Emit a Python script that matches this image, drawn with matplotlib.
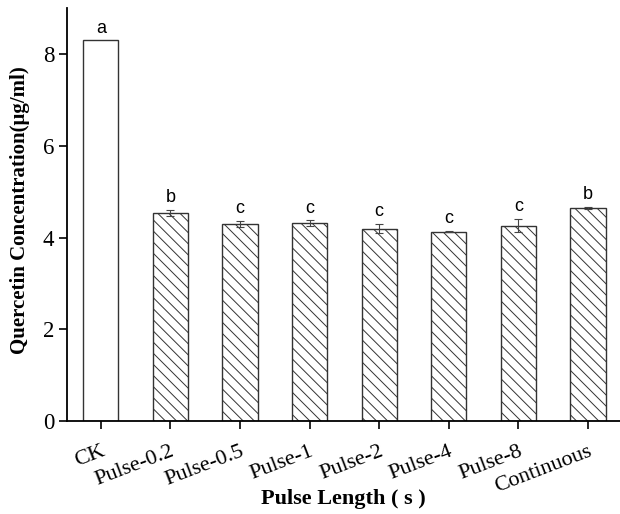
import numpy as np
import matplotlib
matplotlib.use("Agg")
import matplotlib.pyplot as plt

# values
groups = ["CK", "Pulse-0.2", "Pulse-0.5", "Pulse-1", "Pulse-2", "Pulse-4", "Pulse-8", "Continuous"]
quercetin = [8.30, 4.54, 4.30, 4.31, 4.19, 4.13, 4.26, 4.65]
errors = [0.0, 0.06, 0.065, 0.065, 0.10, 0.01, 0.15, 0.02]
letters = ["a", "b", "c", "c", "c", "c", "c", "b"]

plt.rcParams["hatch.color"] = "#555555"
plt.rcParams["hatch.linewidth"] = 0.7

fig = plt.figure(figsize=(6.2, 5.14), dpi=100)
ax = fig.add_axes([0.1075, 0.181, 0.8925, 0.803])

x = np.arange(len(groups))
for i in x:
    ax.bar(i, quercetin[i], width=0.505, color="white", edgecolor="#333333",
           linewidth=1.0, hatch=None if i == 0 else "\\\\\\")
    if errors[i] > 0:
        ax.errorbar(i, quercetin[i], yerr=errors[i], fmt="none", ecolor="#444444",
                    elinewidth=0.8, capsize=3, capthick=0.8)
    ax.text(i, quercetin[i] + errors[i] + 0.17, letters[i], ha="center", va="baseline",
            fontsize=13, family="Liberation Sans")

ax.set_xlim(-0.49, 7.46)
ax.set_ylim(0, 9)
ax.set_yticks([0, 2, 4, 6, 8])
ax.set_xticks(x)
ax.set_xticklabels(groups, rotation=21, ha="right", rotation_mode="anchor",
                   family="Liberation Serif", fontsize=16)
for lab in ax.get_yticklabels():
    lab.set_family("Liberation Serif")
    lab.set_fontsize(16.5)

ax.spines["top"].set_visible(False)
ax.spines["right"].set_visible(False)
ax.spines["left"].set_linewidth(1.3)
ax.spines["bottom"].set_linewidth(1.3)
ax.tick_params(axis="y", direction="out", length=6, width=1.2, pad=3)
ax.tick_params(axis="x", direction="out", length=6, width=1.2, pad=9)

ax.set_ylabel("Quercetin Concentration(μg/ml)", family="Liberation Serif",
              fontweight="bold", fontsize=15, va="center")
ax.yaxis.set_label_coords(-0.085, 0.51)
ax.set_xlabel("Pulse Length ( s )", family="Liberation Serif",
              fontweight="bold", fontsize=16, va="center")
ax.xaxis.set_label_coords(0.5, -0.19)

fig.savefig("out.png", dpi=100)
